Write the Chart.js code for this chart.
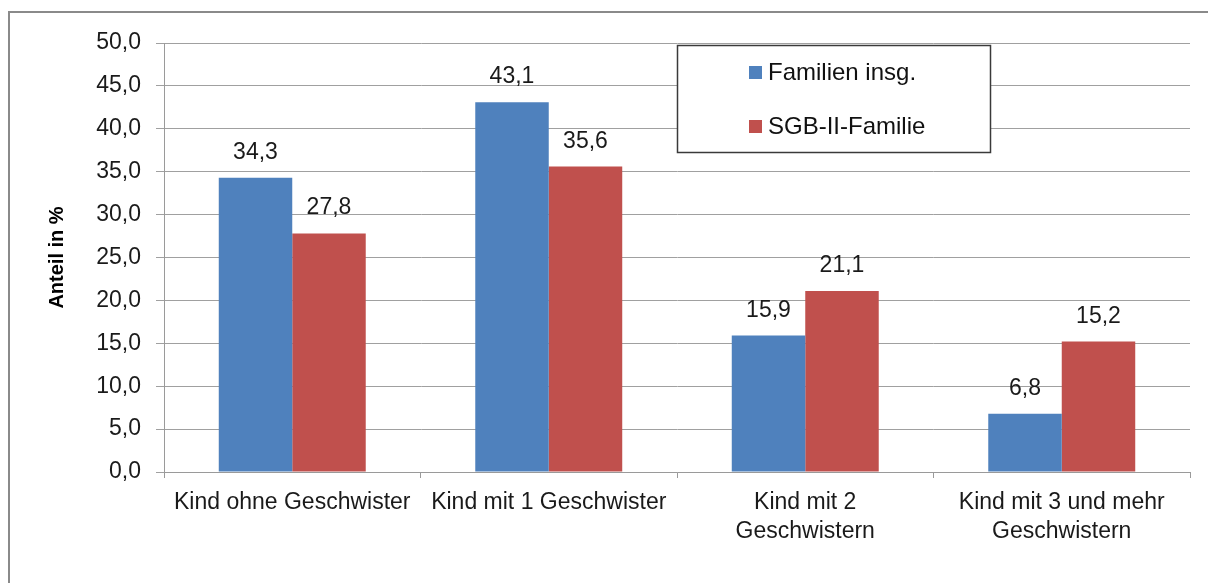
<!DOCTYPE html>
<html>
<head>
<meta charset="utf-8">
<script src="https://cdn.jsdelivr.net/npm/chart.js@4"></script>
<style>
    html, body { margin: 0; padding: 0; background: #fff; }
    body { width: 1208px; height: 583px; overflow: hidden; position: relative; }
    #frame { position: absolute; left: 8px; top: 11px; width: 1400px; height: 800px; border: 2px solid #8a8a8a; }
    #wrap { position: absolute; left: 0; top: 0; width: 1208px; height: 583px; }
</style>
</head>
<body>
<div id="frame"></div>
<div id="wrap"><canvas id="mainChart" width="1208" height="583"></canvas></div>
<script>
// Kategorien und Werte (Anteil in %)
const categories = [
    'Kind ohne Geschwister',
    'Kind mit 1 Geschwister',
    ['Kind mit 2', 'Geschwistern'],
    ['Kind mit 3 und mehr', 'Geschwistern']
];
const familienInsg = [34.3, 43.1, 15.9, 6.8];
const sgbFamilie = [27.8, 35.6, 21.1, 15.2];
const seriesNames = ['Familien insg.', 'SGB-II-Familie'];
const yTicks = [0, 5, 10, 15, 20, 25, 30, 35, 40, 45, 50];

const FONT = '"Liberation Sans", Arial, sans-serif';
const fmt = v => v.toFixed(1).replace('.', ',');

// Datenbeschriftungen über den Balken
const valueLabels = {
    id: 'valueLabels',
    afterDatasetsDraw(chart) {
        const ctx = chart.ctx;
        ctx.save();
        ctx.font = '23px ' + FONT;
        ctx.fillStyle = '#1a1a1a';
        ctx.textAlign = 'center';
        ctx.textBaseline = 'alphabetic';
        chart.data.datasets.forEach((ds, i) => {
            chart.getDatasetMeta(i).data.forEach((bar, j) => {
                ctx.fillText(fmt(ds.data[j]), bar.x, bar.y - 19);
            });
        });
        ctx.restore();
    }
};

// Legende im Kasten
const boxLegend = {
    id: 'boxLegend',
    afterDraw(chart) {
        const ctx = chart.ctx;
        ctx.save();
        ctx.fillStyle = '#fff';
        ctx.fillRect(677, 45, 313, 107);
        ctx.strokeStyle = '#3a3a3a';
        ctx.lineWidth = 1.5;
        ctx.strokeRect(677.5, 45.5, 313, 107);
        ctx.font = '24px ' + FONT;
        ctx.textBaseline = 'middle';
        ctx.textAlign = 'left';
        chart.data.datasets.forEach((ds, i) => {
            const y = 73 + i * 54;
            ctx.fillStyle = ds.backgroundColor;
            ctx.fillRect(749, y - 7, 13, 13);
            ctx.fillStyle = '#111';
            ctx.fillText(ds.label, 768, y);
        });
        ctx.restore();
    }
};

const ctx = document.getElementById('mainChart').getContext('2d');
new Chart(ctx, {
    type: 'bar',
    data: {
        labels: categories,
        datasets: [
            { label: seriesNames[0], data: familienInsg, backgroundColor: '#4F81BD' },
            { label: seriesNames[1], data: sgbFamilie, backgroundColor: '#C0504D' }
        ]
    },
    options: {
        responsive: false,
        animation: false,
        devicePixelRatio: 1,
        layout: { padding: { left: 0, top: 43, right: 18, bottom: 0 } },
        datasets: { bar: { categoryPercentage: 0.573, barPercentage: 1 } },
        plugins: { legend: { display: false }, tooltip: { enabled: false } },
        scales: {
            x: {
                grid: { drawOnChartArea: false, drawTicks: true, tickLength: 6, color: '#9a9a9a', offset: true },
                border: { display: true, color: '#9a9a9a' },
                ticks: { color: '#1a1a1a', font: { family: FONT, size: 23, lineHeight: 1.26 }, padding: 10, maxRotation: 0, autoSkip: false },
                afterFit(scale) { scale.height = 111; }
            },
            y: {
                min: 0,
                max: 50,
                afterBuildTicks(scale) { scale.ticks = yTicks.map(v => ({ value: v })); },
                grid: { color: '#a0a0a0', tickLength: 8 },
                border: { display: true, color: '#9a9a9a' },
                ticks: { color: '#1a1a1a', font: { family: FONT, size: 23 }, padding: 15, callback: v => fmt(v) },
                title: { display: true, text: 'Anteil in %', color: '#000', font: { family: FONT, size: 20, weight: 'bold' }, padding: { top: 45, bottom: 0 } },
                afterFit(scale) { scale.width = 164; }
            }
        }
    },
    plugins: [valueLabels, boxLegend]
});
</script>
</body>
</html>
